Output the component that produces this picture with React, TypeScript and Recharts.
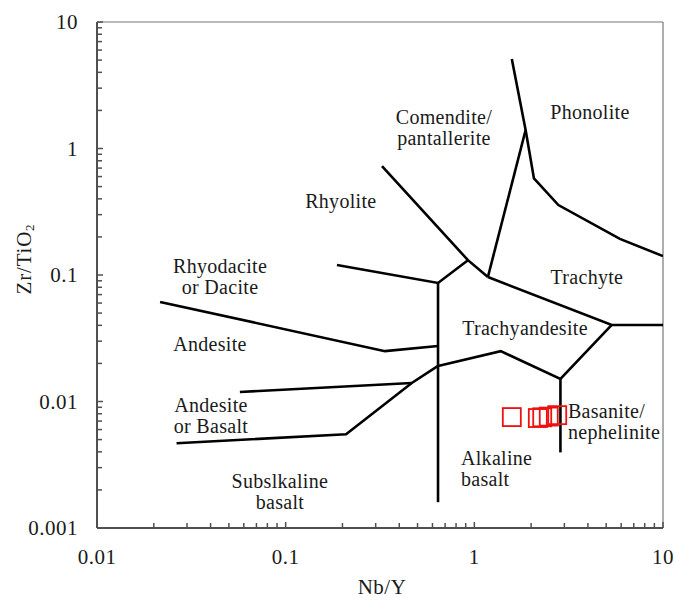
import React from 'react';
import { ScatterChart, Scatter, XAxis, YAxis, ReferenceLine } from 'recharts';

// ---- Axis ticks ----
const xMajorTicks = [0.01, 0.1, 1, 10];
const xTickLabels = ['0.01', '0.1', '1', '10'];
const xMinorTicks = [
  0.02, 0.03, 0.04, 0.05, 0.06, 0.07, 0.08, 0.09,
  0.2, 0.3, 0.4, 0.5, 0.6, 0.7, 0.8, 0.9,
  2, 3, 4, 5, 6, 7, 8, 9,
];
const yMajorTicks = [0.001, 0.01, 0.1, 1, 10];
const yTickLabels = ['0.001', '0.01', '0.1', '1', '10'];
const yMinorTicks = [
  0.002, 0.003, 0.004, 0.005, 0.006, 0.007, 0.008, 0.009,
  0.02, 0.03, 0.04, 0.05, 0.06, 0.07, 0.08, 0.09,
  0.2, 0.3, 0.4, 0.5, 0.6, 0.7, 0.8, 0.9,
  2, 3, 4, 5, 6, 7, 8, 9,
];

// ---- Field boundaries (Nb/Y, Zr/TiO2) ----
const rhyodaciteAndesite = [
  { x: 0.0216, y: 0.0612 }, { x: 0.336, y: 0.025 }, { x: 0.642, y: 0.0275 },
];
const centralVertical = [{ x: 0.642, y: 0.0865 }, { x: 0.642, y: 0.0016 }];
const rhyoliteRhyodacite = [
  { x: 0.187, y: 0.12 }, { x: 0.642, y: 0.0865 }, { x: 0.925, y: 0.131 },
];
const rhyoliteComendite = [
  { x: 0.324, y: 0.727 }, { x: 0.925, y: 0.131 }, { x: 1.18, y: 0.0964 },
];
const comenditeTrachyte = [{ x: 1.18, y: 0.0964 }, { x: 1.87, y: 1.4 }];
const phonoliteBoundary = [
  { x: 1.58, y: 5.1 }, { x: 1.87, y: 1.4 }, { x: 2.07, y: 0.58 },
  { x: 2.79, y: 0.357 }, { x: 5.91, y: 0.193 }, { x: 10, y: 0.141 },
];
const trachyteTrachyandesite = [
  { x: 1.18, y: 0.0964 }, { x: 5.35, y: 0.0403 }, { x: 10, y: 0.0403 },
];
const trachyandesiteBase = [
  { x: 0.642, y: 0.0191 }, { x: 1.38, y: 0.025 }, { x: 2.86, y: 0.0151 }, { x: 5.35, y: 0.0403 },
];
const basaniteVertical = [{ x: 2.86, y: 0.0151 }, { x: 2.86, y: 0.00396 }];
const andesiteBasaltUpper = [{ x: 0.0572, y: 0.0119 }, { x: 0.466, y: 0.014 }];
const subalkalineTop = [
  { x: 0.0264, y: 0.00468 }, { x: 0.209, y: 0.00551 }, { x: 0.466, y: 0.014 }, { x: 0.642, y: 0.0191 },
];

const boundaries = [
  rhyodaciteAndesite, centralVertical, rhyoliteRhyodacite, rhyoliteComendite,
  comenditeTrachyte, phonoliteBoundary, trachyteTrachyandesite, trachyandesiteBase,
  basaniteVertical, andesiteBasaltUpper, subalkalineTop,
];

// ---- Samples ----
const sampleNbY = [1.58, 2.17, 2.29, 2.48, 2.75];
const sampleZrTi = [0.00753, 0.0074, 0.0075, 0.0076, 0.0078];
const samples = sampleNbY.map((x, i) => ({ x, y: sampleZrTi[i] }));

// ---- Field names ----
const fieldNames = [
  { x: 0.69, y: 1.77, lines: ['Comendite/', 'pantallerite'], anchor: 'middle' },
  { x: 4.1, y: 1.96, lines: ['Phonolite'], anchor: 'middle' },
  { x: 0.196, y: 0.385, lines: ['Rhyolite'], anchor: 'middle' },
  { x: 3.95, y: 0.0964, lines: ['Trachyte'], anchor: 'middle' },
  { x: 0.0449, y: 0.118, lines: ['Rhyodacite', 'or Dacite'], anchor: 'middle' },
  { x: 0.0397, y: 0.0285, lines: ['Andesite'], anchor: 'middle' },
  { x: 0.0402, y: 0.00938, lines: ['Andesite', 'or Basalt'], anchor: 'middle' },
  { x: 0.0932, y: 0.00236, lines: ['Subslkaline', 'basalt'], anchor: 'middle' },
  { x: 1.856, y: 0.0381, lines: ['Trachyandesite'], anchor: 'middle' },
  { x: 0.85, y: 0.00357, lines: ['Alkaline', 'basalt'], anchor: 'start' },
  { x: 3.135, y: 0.00841, lines: ['Basanite/', 'nephelinite'], anchor: 'start' },
];

const FONT = '"Liberation Serif", "Times New Roman", serif';
const TEXT = '#1a1a1a';
const AXIS = '#505050';

const near = (a: number, b: number) => Math.abs(Math.log10(a) - Math.log10(b)) < 1e-6;

const XTick = (props: any) => {
  const { x, y, payload } = props;
  const idx = xMajorTicks.findIndex((m) => near(m, payload.value));
  const major = idx >= 0;
  return (
    <g>
      <line x1={x} x2={x} y1={y} y2={y - (major ? 6 : 5)} stroke={AXIS} strokeWidth={1.5} />
      {major && (
        <text x={x} y={y + 29} textAnchor="middle" dominantBaseline="central"
          fontFamily={FONT} fontSize={21} letterSpacing={0.5} fill={TEXT}>
          {xTickLabels[idx]}
        </text>
      )}
    </g>
  );
};

const YTick = (props: any) => {
  const { x, y, payload } = props;
  const idx = yMajorTicks.findIndex((m) => near(m, payload.value));
  const major = idx >= 0;
  return (
    <g>
      <line x1={x} x2={x + (major ? 6 : 5)} y1={y} y2={y} stroke={AXIS} strokeWidth={1.5} />
      {major && (
        <text x={x - 19} y={y} textAnchor="end" dominantBaseline="central"
          fontFamily={FONT} fontSize={21} letterSpacing={0.5} fill={TEXT}>
          {yTickLabels[idx]}
        </text>
      )}
    </g>
  );
};

const NoShape = () => <g />;

const SquareShape = (props: any) => {
  const { cx, cy } = props;
  const s = 18;
  return <rect x={cx - s / 2} y={cy - s / 2} width={s} height={s} fill="none" stroke="#f01010" strokeWidth={1.8} />;
};

const LabelShape = (props: any) => {
  const { cx, cy } = props;
  const p = props.payload || props;
  return (
    <text x={cx} y={cy} textAnchor={p.anchor} dominantBaseline="central"
      fontFamily={FONT} fontSize={20} letterSpacing={0.3} fill={TEXT}>
      {p.lines.map((l: string, i: number) => (
        <tspan key={i} x={cx} dy={i === 0 ? 0 : 21}>{l}</tspan>
      ))}
    </text>
  );
};

export default function App() {
  return (
    <div style={{ position: 'absolute', left: 0, top: 0, background: '#fff' }}>
      <ScatterChart width={675} height={600} margin={{ top: 22, right: 12, left: 0, bottom: 0 }}>
        <XAxis type="number" dataKey="x" scale="log" domain={[0.01, 10]} allowDataOverflow
          ticks={[...xMajorTicks, ...xMinorTicks]} interval={0} height={72}
          tickSize={0} tickMargin={0} tickLine={false} tick={<XTick />}
          axisLine={{ stroke: AXIS, strokeWidth: 2 }} />
        <YAxis type="number" dataKey="y" scale="log" domain={[0.001, 10]} allowDataOverflow
          ticks={[...yMajorTicks, ...yMinorTicks]} interval={0} width={97}
          tickSize={0} tickMargin={0} tickLine={false} tick={<YTick />}
          axisLine={{ stroke: AXIS, strokeWidth: 2 }} />
        <ReferenceLine y={10} stroke="#777" strokeWidth={1.2} ifOverflow="visible" />
        <ReferenceLine x={10} stroke="#777" strokeWidth={1.2} ifOverflow="visible" />
        {boundaries.map((b, i) => (
          <Scatter key={'b' + i} data={b} line={{ stroke: '#000', strokeWidth: 2.6 }}
            lineType="joint" shape={NoShape} isAnimationActive={false} legendType="none" />
        ))}
        <Scatter data={fieldNames} shape={LabelShape} isAnimationActive={false} legendType="none" />
        <Scatter data={samples} shape={SquareShape} isAnimationActive={false} legendType="none" />
        <text x={382} y={587} textAnchor="middle" dominantBaseline="central"
          fontFamily={FONT} fontSize={21} letterSpacing={0.5} fill={TEXT}>Nb/Y</text>
        <text x={24} y={259} transform="rotate(-90, 24, 259)" textAnchor="middle" dominantBaseline="central"
          fontFamily={FONT} fontSize={21} letterSpacing={0.8} fill={TEXT}>
          Zr/TiO<tspan fontSize={13} dy={5}>2</tspan>
        </text>
      </ScatterChart>
    </div>
  );
}
